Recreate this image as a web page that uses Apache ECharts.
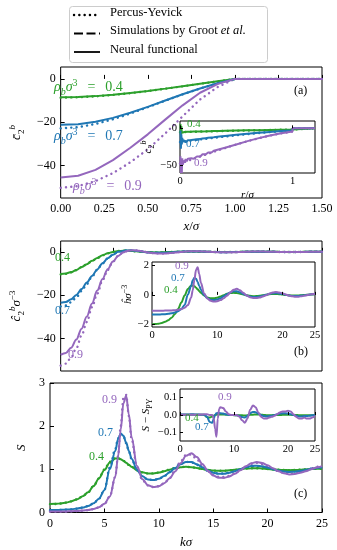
<!DOCTYPE html>
<html>
<head>
<meta charset="utf-8">
<script src="https://cdn.jsdelivr.net/npm/echarts@6/dist/echarts.min.js"></script>
<style>
  html, body { margin: 0; padding: 0; background: #fff; }
  #chart { width: 337px; height: 550px; }
</style>
</head>
<body>
<div id="chart"></div>
<script>
// ---- panel (a): planar c2 vs x ----
const xPlanar = [0, 0.1, 0.2, 0.3, 0.4, 0.5, 0.6, 0.7, 0.8, 0.9, 1.0, 1.5];
const cbPY04 = [-8.64, -8.49, -8.06, -7.41, -6.57, -5.60, -4.54, -3.42, -2.27, -1.13, 0, 0];
const cbPY07 = [-22.84, -22.30, -20.82, -18.64, -15.99, -13.07, -10.07, -7.15, -4.44, -2.04, 0, 0];
const cbPY09 = [-50.3, -49.5, -47.2, -43.5, -38.5, -32.5, -25.2, -17.3, -9.5, -3.8, 0, 0];
const cbNN04 = [-8.5, -8.36, -7.95, -7.31, -6.49, -5.54, -4.49, -3.39, -2.25, -1.12, 0, 0];
const cbNN07 = [-21.2, -20.9, -19.8, -18.0, -15.6, -12.9, -10.0, -7.1, -4.4, -2.02, 0, 0];
const cbNN09 = [-45.5, -44.7, -42.0, -37.5, -31.8, -25.6, -18.8, -12.2, -6.4, -2.4, 0, 0];

// inset (a): c2 vs r
const rPY = [0, 0.1, 0.2, 0.3, 0.4, 0.5, 0.6, 0.7, 0.8, 0.9, 1.0, 1.0, 1.2];
const crPY04 = [-5.15, -4.76, -4.37, -3.99, -3.62, -3.26, -2.91, -2.59, -2.29, -2.01, -1.77, 0, 0];
const crPY07 = [-18.65, -16.74, -14.85, -13.01, -11.22, -9.52, -7.92, -6.44, -5.10, -3.93, -2.95, 0, 0];
const crPY09 = [-48.27, -42.76, -37.32, -32.01, -26.91, -22.08, -17.60, -13.52, -9.92, -6.86, -4.42, 0, 0];
const rNN = [0.004, 0.008, 0.012, 0.016, 0.02, 0.025, 0.03, 0.04, 0.05, 0.06, 0.07, 0.08, 0.1, 0.12, 0.15, 0.18, 0.2, 0.23, 0.25, 0.28, 0.3, 0.35, 0.4, 0.5, 0.6, 0.7, 0.8, 0.9, 1.0, 1.0, 1.2];
const crNN04 = [6, -9, 3, -6, -4.2, -5.3, -4.8, -5.0, -4.7, -4.8, -4.7, -4.6, -4.7, -4.5, -4.4, -4.3, -4.2, -4.1, -4.0, -3.9, -3.8, -3.6, -3.4, -3.1, -2.8, -2.5, -2.2, -1.95, -1.7, 0, 0];
const crNN07 = [-3, -28, -8, -22, -13, -19, -16, -17.5, -19, -16.5, -16.2, -16.4, -16.0, -15.6, -15.0, -14.4, -14.0, -13.4, -13.0, -12.4, -12.1, -11.2, -10.4, -8.9, -7.5, -6.1, -4.9, -3.8, -2.9, 0, 0];
const crNN09 = [-38, -61, -44, -61, -41, -50, -44, -47, -42, -45, -41.5, -43.5, -41, -41.5, -38.5, -38.5, -35.5, -35.5, -33, -33, -30.5, -28.5, -26.5, -22, -17.5, -13.4, -9.8, -6.7, -4.3, 0, 0];

// ---- k grid shared by panels (b) and (c) ----
const kGrid = [0, 0.5, 1, 1.5, 2, 2.5, 3, 3.5, 4, 4.5, 5, 5.5, 6, 6.25, 6.5, 6.75, 7, 7.25, 7.5, 8, 8.5, 9, 9.5, 10, 10.5, 11, 11.5, 12, 12.5, 13, 13.5, 14, 14.5, 15, 15.5, 16, 16.5, 17, 17.5, 18, 18.5, 19, 19.5, 20, 20.5, 21, 21.5, 22, 22.5, 23, 23.5, 24, 24.5, 25];

// panel (b): c2 hat
const chPY04 = [-10.38, -10.16, -9.49, -8.49, -7.13, -5.73, -4.19, -2.85, -1.60, -0.66, -0.01, 0.37, 0.51, 0.51, 0.48, 0.41, 0.32, 0.23, 0.13, -0.06, -0.19, -0.26, -0.26, -0.20, -0.11, -0.01, 0.07, 0.12, 0.14, 0.12, 0.07, 0.02, -0.04, -0.08, -0.09, -0.09, -0.06, -0.02, 0.01, 0.04, 0.06, 0.06, 0.05, 0.02, 0.00, -0.03, -0.04, -0.05, -0.04, -0.02, 0.00, 0.02, 0.03, 0.03];
const chPY07 = [-25.21, -24.72, -23.26, -21.06, -18.05, -14.91, -11.41, -8.31, -5.35, -3.03, -1.30, 0.06, 0.46, 0.60, 0.65, 0.62, 0.54, 0.42, 0.27, -0.03, -0.29, -0.44, -0.47, -0.40, -0.26, -0.09, 0.06, 0.17, 0.21, 0.20, 0.13, 0.04, -0.05, -0.12, -0.15, -0.15, -0.11, -0.06, 0.00, 0.06, 0.09, 0.10, 0.08, 0.04, 0.00, -0.04, -0.07, -0.08, -0.07, -0.04, -0.01, 0.02, 0.05, 0.06];
const chPY09 = [-52.52, -51.58, -48.77, -44.5, -38.62, -32.4, -25.53, -19.27, -13.22, -8.36, -4.55, -1.87, -0.23, 0.26, 0.55, 0.69, 0.70, 0.61, 0.46, 0.04, -0.37, -0.66, -0.78, -0.72, -0.53, -0.27, -0.02, 0.17, 0.28, 0.28, 0.21, 0.08, -0.05, -0.17, -0.23, -0.24, -0.19, -0.11, -0.02, 0.07, 0.13, 0.14, 0.12, 0.07, 0.01, -0.06, -0.10, -0.12, -0.11, -0.08, -0.03, 0.02, 0.06, 0.08];
const chNN04 = [-10.2, -10.0, -9.35, -8.4, -7.05, -5.68, -4.15, -2.83, -1.58, -0.66, -0.04, 0.34, 0.51, 0.51, 0.48, 0.41, 0.32, 0.23, 0.13, -0.06, -0.19, -0.26, -0.26, -0.20, -0.11, -0.01, 0.07, 0.12, 0.14, 0.12, 0.07, 0.02, -0.04, -0.08, -0.09, -0.09, -0.06, -0.02, 0.01, 0.04, 0.06, 0.06, 0.05, 0.02, 0.00, -0.03, -0.04, -0.05, -0.04, -0.02, 0.00, 0.02, 0.03, 0.03];
const chNN07 = [-23.5, -23.1, -21.9, -19.9, -17.2, -14.2, -11.1, -8.1, -5.3, -3.0, -1.35, 0.0, 0.43, 0.60, 0.65, 0.62, 0.54, 0.42, 0.27, -0.03, -0.29, -0.44, -0.47, -0.40, -0.26, -0.09, 0.06, 0.17, 0.21, 0.20, 0.13, 0.04, -0.05, -0.12, -0.15, -0.15, -0.11, -0.06, 0.00, 0.06, 0.09, 0.10, 0.08, 0.04, 0.00, -0.04, -0.07, -0.08, -0.07, -0.04, -0.01, 0.02, 0.05, 0.06];
const chNN09 = [-47.5, -46.7, -44.3, -40.5, -35.5, -29.8, -23.8, -17.9, -12.5, -8.0, -4.5, -1.9, -0.25, 0.26, 0.55, 0.69, 0.70, 0.61, 0.46, 0.04, -0.37, -0.66, -0.78, -0.72, -0.53, -0.27, -0.02, 0.17, 0.28, 0.28, 0.21, 0.08, -0.05, -0.17, -0.23, -0.24, -0.19, -0.11, -0.02, 0.07, 0.13, 0.14, 0.12, 0.07, 0.01, -0.06, -0.10, -0.12, -0.11, -0.08, -0.03, 0.02, 0.06, 0.08];

// inset (b): h hat
const hNN04 = [-2.008, -2.000, -1.973, -1.925, -1.845, -1.735, -1.560, -1.328, -0.970, -0.525, -0.038, 0.400, 0.628, 0.635, 0.588, 0.495, 0.380, 0.260, 0.143, -0.050, -0.175, -0.235, -0.235, -0.190, -0.113, -0.018, 0.068, 0.123, 0.143, 0.125, 0.080, 0.023, -0.030, -0.068, -0.088, -0.085, -0.060, -0.025, 0.013, 0.045, 0.063, 0.065, 0.050, 0.025, -0.003, -0.028, -0.043, -0.048, -0.040, -0.025, -0.005, 0.013, 0.028, 0.035];
const hNN07 = [-1.347, -1.346, -1.341, -1.333, -1.319, -1.299, -1.266, -1.214, -1.126, -0.970, -0.694, 0.009, 0.609, 0.996, 1.176, 1.111, 0.884, 0.610, 0.354, -0.019, -0.233, -0.336, -0.356, -0.314, -0.224, -0.097, 0.046, 0.169, 0.243, 0.243, 0.171, 0.066, -0.036, -0.110, -0.147, -0.149, -0.114, -0.060, 0.004, 0.069, 0.111, 0.121, 0.100, 0.056, 0.006, -0.040, -0.071, -0.086, -0.077, -0.051, -0.020, 0.016, 0.044, 0.059];
const hNN09 = [-1.086, -1.086, -1.084, -1.082, -1.078, -1.072, -1.062, -1.048, -1.021, -0.977, -0.889, -0.698, -0.190, 0.313, 1.019, 1.704, 1.896, 1.413, 0.824, 0.086, -0.257, -0.409, -0.457, -0.436, -0.358, -0.231, -0.053, 0.156, 0.347, 0.414, 0.318, 0.140, -0.034, -0.157, -0.214, -0.220, -0.182, -0.112, -0.026, 0.080, 0.159, 0.188, 0.160, 0.104, 0.030, -0.048, -0.103, -0.130, -0.122, -0.087, -0.049, 0.000, 0.049, 0.083];

// panel (c): S(k)
const sPY04 = [0.194, 0.198, 0.209, 0.228, 0.260, 0.304, 0.374, 0.467, 0.610, 0.790, 0.997, 1.175, 1.259, 1.258, 1.235, 1.196, 1.149, 1.101, 1.054, 0.977, 0.928, 0.905, 0.906, 0.925, 0.957, 0.995, 1.029, 1.052, 1.059, 1.049, 1.030, 1.006, 0.985, 0.971, 0.965, 0.967, 0.977, 0.991, 1.005, 1.018, 1.025, 1.025, 1.019, 1.009, 0.998, 0.989, 0.983, 0.982, 0.985, 0.991, 0.999, 1.006, 1.012, 1.014];
const sPY07 = [0.0536, 0.0546, 0.0579, 0.0635, 0.0734, 0.0874, 0.111, 0.147, 0.211, 0.320, 0.524, 1.046, 1.471, 1.717, 1.823, 1.768, 1.607, 1.415, 1.238, 0.979, 0.833, 0.765, 0.751, 0.780, 0.845, 0.938, 1.044, 1.133, 1.175, 1.160, 1.102, 1.030, 0.967, 0.923, 0.903, 0.904, 0.926, 0.962, 1.003, 1.044, 1.070, 1.075, 1.060, 1.031, 1.000, 0.972, 0.954, 0.948, 0.954, 0.970, 0.992, 1.015, 1.033, 1.041];
const sPY09 = [0.0207, 0.0211, 0.0223, 0.0244, 0.0280, 0.0332, 0.0417, 0.0545, 0.0775, 0.117, 0.196, 0.372, 0.829, 1.302, 1.997, 2.659, 2.726, 2.237, 1.697, 1.037, 0.749, 0.627, 0.589, 0.608, 0.678, 0.802, 0.982, 1.185, 1.332, 1.343, 1.231, 1.081, 0.954, 0.869, 0.827, 0.822, 0.851, 0.909, 0.982, 1.067, 1.128, 1.149, 1.124, 1.069, 1.007, 0.952, 0.917, 0.903, 0.910, 0.937, 0.976, 1.020, 1.059, 1.080];
const sNN04 = [0.197, 0.200, 0.211, 0.230, 0.262, 0.306, 0.376, 0.469, 0.612, 0.790, 0.985, 1.160, 1.251, 1.254, 1.235, 1.198, 1.152, 1.104, 1.057, 0.980, 0.930, 0.906, 0.906, 0.924, 0.955, 0.993, 1.027, 1.049, 1.057, 1.050, 1.032, 1.009, 0.988, 0.973, 0.965, 0.966, 0.976, 0.990, 1.005, 1.018, 1.025, 1.026, 1.020, 1.010, 0.999, 0.989, 0.983, 0.981, 0.984, 0.990, 0.998, 1.005, 1.011, 1.014];
const sNN07 = [0.057, 0.058, 0.061, 0.067, 0.077, 0.091, 0.114, 0.150, 0.212, 0.321, 0.514, 1.006, 1.426, 1.697, 1.823, 1.778, 1.619, 1.427, 1.248, 0.987, 0.837, 0.765, 0.751, 0.780, 0.843, 0.932, 1.032, 1.118, 1.170, 1.170, 1.120, 1.046, 0.975, 0.923, 0.897, 0.896, 0.920, 0.958, 1.003, 1.048, 1.078, 1.085, 1.070, 1.039, 1.004, 0.972, 0.950, 0.940, 0.946, 0.964, 0.986, 1.011, 1.031, 1.041];
const sNN09 = [0.023, 0.023, 0.024, 0.026, 0.030, 0.035, 0.044, 0.057, 0.081, 0.121, 0.200, 0.372, 0.829, 1.282, 1.917, 2.534, 2.706, 2.272, 1.742, 1.077, 0.769, 0.632, 0.589, 0.608, 0.678, 0.792, 0.952, 1.140, 1.312, 1.373, 1.286, 1.126, 0.969, 0.859, 0.807, 0.802, 0.836, 0.899, 0.977, 1.072, 1.143, 1.169, 1.144, 1.094, 1.027, 0.957, 0.907, 0.883, 0.890, 0.922, 0.956, 1.000, 1.044, 1.075];

// inset (c): S - S_PY
const dS04 = [0.003, 0.002, 0.002, 0.002, 0.002, 0.002, 0.002, 0.002, 0.002, 0.000, -0.012, -0.015, -0.008, -0.004, 0.000, 0.002, 0.003, 0.003, 0.003, 0.003, 0.002, 0.001, 0.000, -0.001, -0.002, -0.002, -0.002, -0.003, -0.002, 0.001, 0.002, 0.003, 0.003, 0.002, 0.000, -0.001, -0.001, -0.001, 0.000, 0.000, 0.000, 0.001, 0.001, 0.001, 0.001, 0.000, 0.000, -0.001, -0.001, -0.001, -0.001, -0.001, -0.001, 0.000];
const dS07 = [0.003, 0.003, 0.003, 0.003, 0.004, 0.004, 0.003, 0.003, 0.001, 0.001, -0.010, -0.040, -0.045, -0.020, 0.000, 0.010, 0.012, 0.012, 0.010, 0.008, 0.004, 0.000, 0.000, 0.000, -0.002, -0.006, -0.012, -0.015, -0.005, 0.010, 0.018, 0.016, 0.008, 0.000, -0.006, -0.008, -0.006, -0.004, 0.000, 0.004, 0.008, 0.010, 0.010, 0.008, 0.004, 0.000, -0.004, -0.008, -0.008, -0.006, -0.006, -0.004, -0.002, 0.000];
const dS09 = [0.002, 0.002, 0.002, 0.002, 0.002, 0.002, 0.002, 0.002, 0.003, 0.004, 0.004, 0.000, 0.000, -0.020, -0.080, -0.125, -0.020, 0.035, 0.045, 0.040, 0.020, 0.005, 0.000, 0.000, 0.000, -0.010, -0.030, -0.045, -0.020, 0.030, 0.055, 0.045, 0.015, -0.010, -0.020, -0.020, -0.015, -0.010, -0.005, 0.005, 0.015, 0.020, 0.020, 0.025, 0.020, 0.005, -0.010, -0.020, -0.020, -0.015, -0.020, -0.020, -0.015, -0.005];

const legendNames = ['Percus-Yevick', 'Simulations by Groot ', 'Neural functional'];

// ---------------------------------------------------------------
const F = "'Liberation Serif','DejaVu Serif',serif";
const GREEN = '#2ca02c', BLUE = '#1f77b4', PURPLE = '#9467bd';

const pts = (xs, ys) => xs.map((x, i) => [x, ys[i]]);
const minus = v => String(v).replace('-', '\u2212');

const LS = {
  solid: { width: 2, type: 'solid' },
  dot: { width: 2.4, type: [0.1, 5.2], cap: 'round' },
  dash: { width: 2, type: [9, 3.5] },
};

function line(idx, xs, ys, color, kind, z, smooth) {
  return {
    type: 'line', xAxisIndex: idx, yAxisIndex: idx, data: pts(xs, ys),
    symbol: 'none', z: z, silent: true,
    smooth: smooth ? 0.35 : false, smoothMonotone: smooth ? 'x' : undefined,
    lineStyle: Object.assign({ color: color }, LS[kind]),
    itemStyle: { color: color },
  };
}

function rich(size, color) {
  const base = { fontFamily: F, fontSize: size, lineHeight: size + 5, color: color };
  const small = { fontFamily: F, fontSize: Math.round(size * 0.7), lineHeight: Math.round(size * 0.7), color: color };
  return {
    i: Object.assign({}, base, { fontStyle: 'italic' }),
    r: Object.assign({}, base),
    sb: Object.assign({}, small, { verticalAlign: 'bottom' }),
    sbi: Object.assign({}, small, { verticalAlign: 'bottom', fontStyle: 'italic' }),
    sp: Object.assign({}, small, { verticalAlign: 'top' }),
    spi: Object.assign({}, small, { verticalAlign: 'top', fontStyle: 'italic' }),
  };
}

function axis(gi, min, max, o) {
  const small = !!o.small;
  const ax = {
    gridIndex: gi, type: 'value', min: min, max: max, z: small ? 7 : 1,
    splitLine: { show: false }, axisLine: { show: false },
    axisTick: { show: true, inside: true, length: small ? 3 : 4, lineStyle: { color: '#000', width: 1 } },
    axisLabel: {
      show: o.labels !== false, color: '#000', fontFamily: F,
      fontSize: small ? 10.5 : 12, margin: small ? 3 : 5, formatter: o.fmt || minus,
    },
  };
  if (o.interval) ax.interval = o.interval;
  if (o.ticks) { ax.axisTick.customValues = o.ticks; ax.axisLabel.customValues = o.ticks; }
  if (o.name) {
    ax.name = o.name; ax.nameLocation = 'middle'; ax.nameGap = o.gap;
    if (o.rot) ax.nameRotate = o.rot;
    ax.nameTextStyle = { color: '#000', fontFamily: F, fontSize: small ? 11 : 13, rich: rich(small ? 11 : 13, '#000') };
  }
  return ax;
}

function label(x, y, text, color, size) {
  size = size || 12;
  return {
    type: 'text', left: x, top: y - size * 0.72, z: 20, silent: true,
    style: { text: text, fill: color, fontFamily: F, fontSize: size, rich: rich(size, color) },
  };
}

function legendKey(y, kind) {
  const st = LS[kind];
  return {
    type: 'line', z: 21, silent: true,
    shape: { x1: 74, y1: y, x2: 100, y2: y },
    style: {
      stroke: '#000', lineWidth: kind === 'solid' ? 1.8 : st.width,
      lineDash: kind === 'solid' ? null : st.type, lineCap: kind === 'dot' ? 'round' : 'butt',
    },
  };
}

const grids = [
  { left: 50, top: 67, width: 272, height: 131 },
  { left: 180, top: 121, width: 135, height: 52, backgroundColor: '#fff', z: 5 },
  { left: 50, top: 241, width: 272, height: 130 },
  { left: 152, top: 262, width: 163, height: 65, backgroundColor: '#fff', z: 5 },
  { left: 50, top: 383, width: 272, height: 130 },
  { left: 180, top: 389, width: 135, height: 52, backgroundColor: '#fff', z: 5 },
].map(g => Object.assign({ show: true, borderColor: '#000', borderWidth: 1, containLabel: false }, g));

const xAxes = [
  axis(0, 0, 1.5, { interval: 0.25, fmt: v => v.toFixed(2), name: '{i|x}{r|/}{i|σ}', gap: 20 }),
  axis(1, 0, 1.2, { small: true, ticks: [0, 1], name: '{i|r}{r|/}{i|σ}', gap: 14 }),
  axis(2, 0, 25, { interval: 5, labels: false }),
  axis(3, 0, 25, { small: true, interval: 10 }),
  axis(4, 0, 25, { interval: 5, name: '{i|k}{i|σ}', gap: 21 }),
  axis(5, 0, 25, { small: true, interval: 10 }),
];
const yAxes = [
  axis(0, -55, 5.5, { ticks: [-40, -20, 0], name: '{i|c\u0304}{sb|2}{spi|b}', gap: 31, rot: 90 }),
  axis(1, -61, 10, { small: true, ticks: [-50, 0], name: '{i|c}{sb|2}{spi|b}', gap: 24, rot: 90 }),
  axis(2, -55, 5, { ticks: [-40, -20, 0], name: '{i|\u0109}{sb|2}{spi|b}{i|σ}{sp|\u22123}', gap: 30, rot: 90 }),
  axis(3, -2.2, 2.25, { small: true, ticks: [-2, 0, 2], name: '{i|\u0125}{i|σ}{sp|\u22123}', gap: 15, rot: 90 }),
  axis(4, 0, 3, { interval: 1, name: '{i|S}', gap: 15, rot: 90 }),
  axis(5, -0.15, 0.15, { small: true, ticks: [-0.1, 0, 0.1], fmt: v => minus(v.toFixed(1)), name: '{i|S} {r|\u2212} {i|S}{sb|PY}', gap: 25, rot: 90 }),
];

const series = [
  // (a)
  line(0, xPlanar, cbPY04, GREEN, 'dot', 2), line(0, xPlanar, cbPY07, BLUE, 'dot', 2), line(0, xPlanar, cbPY09, PURPLE, 'dot', 2),
  line(0, xPlanar, cbNN04, GREEN, 'solid', 3), line(0, xPlanar, cbNN07, BLUE, 'solid', 3), line(0, xPlanar, cbNN09, PURPLE, 'solid', 3),
  // (a) inset
  line(1, rPY, crPY04, GREEN, 'dot', 6), line(1, rPY, crPY07, BLUE, 'dot', 6), line(1, rPY, crPY09, PURPLE, 'dot', 6),
  line(1, rNN, crNN04, GREEN, 'solid', 6), line(1, rNN, crNN07, BLUE, 'solid', 6), line(1, rNN, crNN09, PURPLE, 'solid', 6),
  // (b)
  line(2, kGrid, chPY04, GREEN, 'dot', 2, true), line(2, kGrid, chPY07, BLUE, 'dot', 2, true), line(2, kGrid, chPY09, PURPLE, 'dot', 2, true),
  line(2, kGrid, chNN04, GREEN, 'solid', 3, true), line(2, kGrid, chNN07, BLUE, 'solid', 3, true), line(2, kGrid, chNN09, PURPLE, 'solid', 3, true),
  // (b) inset
  line(3, kGrid, hNN04, GREEN, 'solid', 6, true), line(3, kGrid, hNN07, BLUE, 'solid', 6, true), line(3, kGrid, hNN09, PURPLE, 'solid', 6, true),
  // (c)
  line(4, kGrid, sPY04, GREEN, 'dot', 2, true), line(4, kGrid, sPY07, BLUE, 'dot', 2, true), line(4, kGrid, sPY09, PURPLE, 'dot', 2, true),
  line(4, kGrid, sNN04, GREEN, 'solid', 3, true), line(4, kGrid, sNN07, BLUE, 'solid', 3, true), line(4, kGrid, sNN09, PURPLE, 'solid', 3, true),
  // (c) inset
  line(5, kGrid, dS04, GREEN, 'solid', 6, true), line(5, kGrid, dS07, BLUE, 'solid', 6, true), line(5, kGrid, dS09, PURPLE, 'solid', 6, true),
];

const rhoLabel = v => '{i|ρ}{sbi|b}{i|σ}{sp|3}{r|\u2002\u2009=\u2002\u2009' + v + '}';

const graphics = [
  // legend box
  { type: 'rect', z: 20, silent: true, shape: { x: 69.5, y: 6.5, width: 198, height: 56, r: 3 }, style: { fill: '#fff', stroke: '#cccccc', lineWidth: 1 } },
  legendKey(15, 'dot'), legendKey(33.5, 'dash'), legendKey(52, 'solid'),
  label(110, 15, '{r|' + legendNames[0] + '}', '#000', 12.5),
  label(110, 33.5, '{r|' + legendNames[1] + '}{i|et al.}', '#000', 12.5),
  label(110, 52, '{r|' + legendNames[2] + '}', '#000', 12.5),

  label(54, 88, rhoLabel('0.4'), GREEN, 14),
  label(54, 137, rhoLabel('0.7'), BLUE, 14),
  label(73, 187, rhoLabel('0.9'), PURPLE, 14),
  label(294, 93, '(a)', '#000'),
  label(187, 127, '0.4', GREEN, 11), label(186, 147, '0.7', BLUE, 11), label(194, 166, '0.9', PURPLE, 11),
  label(55, 260, '0.4', GREEN), label(55, 313, '0.7', BLUE), label(68, 357, '0.9', PURPLE),
  label(294, 354, '(b)', '#000'),
  label(175, 269, '0.9', PURPLE, 11), label(171, 281, '0.7', BLUE, 11), label(164, 293, '0.4', GREEN, 11),
  label(102, 402, '0.9', PURPLE), label(98, 435, '0.7', BLUE), label(89, 459, '0.4', GREEN),
  label(294, 496, '(c)', '#000'),
  label(218, 400, '0.9', PURPLE, 11), label(185, 421, '0.4', GREEN, 11), label(195, 430, '0.7', BLUE, 11),
];

const chart = echarts.init(document.getElementById('chart'), null, { renderer: 'canvas' });
chart.setOption({
  animation: false,
  backgroundColor: '#fff',
  grid: grids,
  xAxis: xAxes,
  yAxis: yAxes,
  series: series,
  graphic: graphics,
});
</script>
</body>
</html>
